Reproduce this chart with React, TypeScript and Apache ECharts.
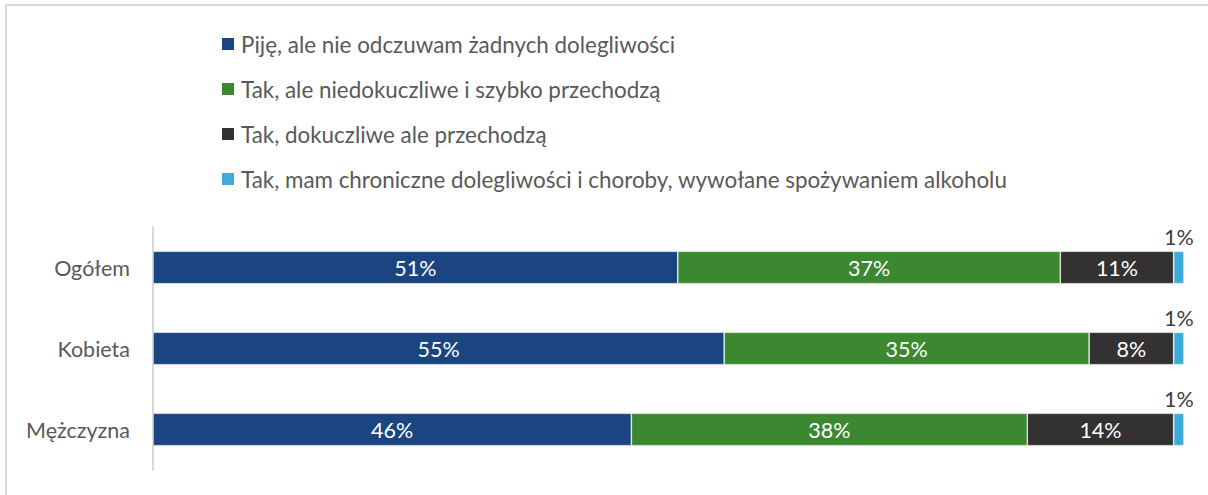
import React, { useEffect, useRef } from "react";
import * as echarts from "echarts";

const categories = ["Ogółem", "Kobieta", "Mężczyzna"];
const seriesNames = [
  "Piję, ale nie odczuwam żadnych dolegliwości",
  "Tak, ale niedokuczliwe i szybko przechodzą",
  "Tak, dokuczliwe ale przechodzą",
  "Tak, mam chroniczne dolegliwości i choroby, wywołane spożywaniem alkoholu",
];
const noPain = [50.9, 55.4, 46.4];
const mildPain = [37.1, 35.4, 38.4];
const annoyingPain = [11.0, 8.2, 14.2];
const chronicPain = [1.0, 1.0, 1.0];
const colors = ["#1a4580", "#3b8830", "#333132", "#3fabd9"];

const FONT = "Lato";
const FS = 21.5;
const LEGEND_FS = 22.4;

export default function App() {
  const ref = useRef<HTMLDivElement>(null);
  useEffect(() => {
    if (!ref.current) return;
    const chart = echarts.init(ref.current, null, { renderer: "svg" });
    const values = [noPain, mildPain, annoyingPain, chronicPain];
    chart.setOption({
      animation: false,
      textStyle: { fontFamily: FONT },
      graphic: [
        {
          type: "rect",
          shape: { x: 6, y: 5, width: 1230, height: 520 },
          style: { fill: "none", stroke: "#d9d9d9", lineWidth: 2 },
          silent: true,
        },
      ],
      legend: {
        orient: "vertical",
        left: 220,
        top: 33,
        padding: 0,
        itemWidth: 14,
        itemHeight: 14,
        itemGap: 23,
        icon: "rect",
        textStyle: { fontFamily: FONT, fontSize: LEGEND_FS, color: "#595959", padding: [0, 0, 0, 1] },
        data: seriesNames,
      },
      grid: { left: 153, right: 24, top: 227, bottom: 25 },
      xAxis: {
        type: "value",
        min: 0,
        max: 100,
        show: false,
      },
      yAxis: {
        type: "category",
        data: categories,
        inverse: true,
        axisLine: { show: true, lineStyle: { color: "#d9d9d9", width: 2 } },
        axisTick: { show: false },
        axisLabel: { fontFamily: FONT, fontSize: FS, color: "#595959", margin: 23 },
      },
      series: seriesNames.map((name, i) => ({
        name,
        type: "bar",
        stack: "total",
        barWidth: "40%",
        data: values[i],
        itemStyle: { color: colors[i], borderColor: "#ffffff", borderWidth: 0.6 },
        label: {
          show: true,
          position: i === 3 ? "top" : "inside",
          distance: 3,
          fontFamily: FONT,
          fontSize: FS,
          color: i === 3 ? "#404040" : "#ffffff",
          formatter: (p: any) => Math.round(p.value) + "%",
        },
      })),
    });
    return () => chart.dispose();
  }, []);
  return (
    <div
      ref={ref}
      style={{ position: "fixed", left: 0, top: 0, width: 1208, height: 495, background: "#fff" }}
    />
  );
}
